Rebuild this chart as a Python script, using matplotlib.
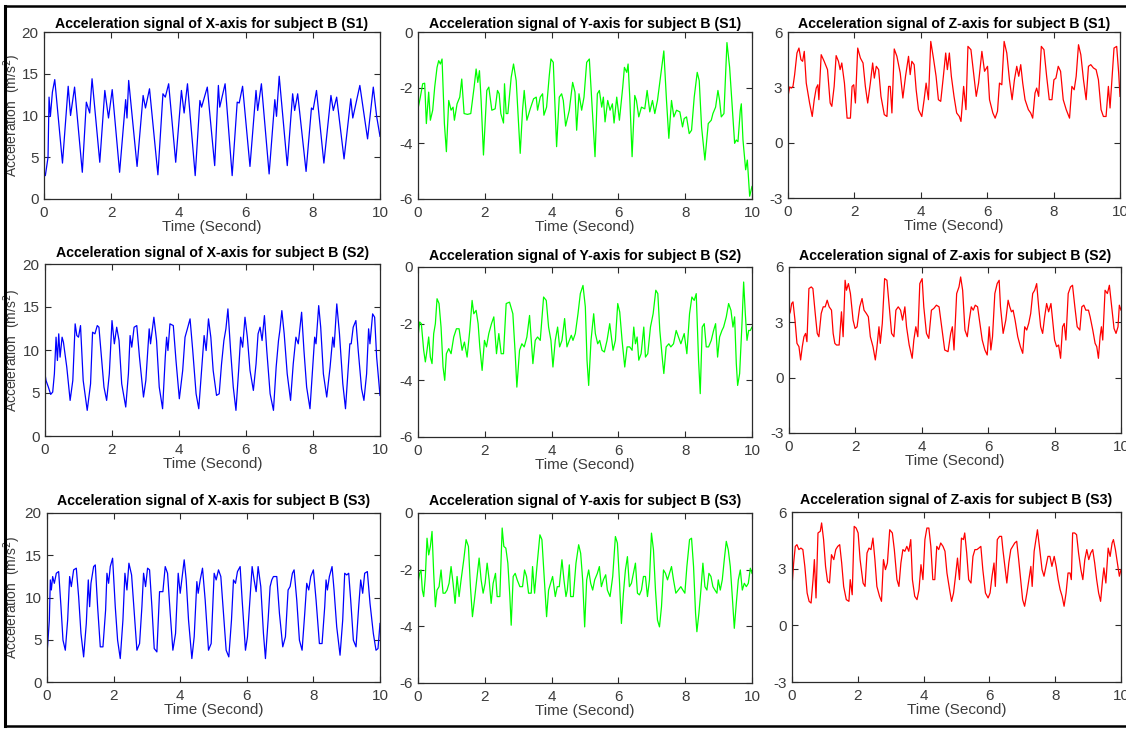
import matplotlib
matplotlib.use("Agg")
import matplotlib.pyplot as plt
from matplotlib import font_manager
from matplotlib.lines import Line2D

# ---------------- data ----------------
x_s1_time = [0.00, 0.04, 0.12, 0.15, 0.19, 0.25, 0.32, 0.55, 0.72, 0.79,
             0.91, 1.14, 1.26, 1.36, 1.43, 1.66, 1.81, 1.92, 2.03, 2.25,
             2.43, 2.47, 2.52, 2.77, 2.95, 3.02, 3.14, 3.39, 3.54, 3.61,
             3.71, 3.92, 4.09, 4.17, 4.27, 4.50, 4.64, 4.69, 4.86, 5.08,
             5.19, 5.23, 5.39, 5.60, 5.75, 5.81, 5.91, 6.13, 6.31, 6.36,
             6.47, 6.70, 6.87, 6.92, 7.00, 7.24, 7.40, 7.46, 7.55, 7.80,
             7.96, 8.01, 8.11, 8.33, 8.54, 8.61, 8.71, 8.93, 9.13, 9.19,
             9.40, 9.63, 9.80, 9.90, 10.0]
x_s1_acc = [3.3, 2.8, 5.0, 12.2, 9.9, 12.8, 14.3, 4.3, 13.5, 10.0,
            13.4, 3.2, 11.6, 10.3, 14.4, 4.4, 13.0, 9.7, 13.1, 3.2,
            11.9, 9.7, 14.2, 3.9, 12.4, 10.9, 13.2, 2.9, 12.6, 12.2,
            13.8, 4.4, 13.0, 10.3, 13.8, 2.8, 11.8, 11.0, 13.4, 4.0,
            13.6, 11.0, 13.8, 2.8, 11.6, 11.5, 13.5, 3.9, 13.0, 10.6,
            13.8, 3.0, 11.9, 9.9, 14.7, 4.0, 12.6, 10.6, 12.6, 3.3,
            10.9, 10.7, 13.0, 4.3, 12.4, 10.6, 12.2, 4.8, 12.0, 9.7,
            13.6, 7.2, 13.4, 9.9, 7.5]

y_s1_time = [0.00, 0.07, 0.14, 0.20, 0.25, 0.32, 0.37, 0.44, 0.50, 0.57,
             0.62, 0.67, 0.72, 0.79, 0.85, 0.92, 0.99, 1.05, 1.09, 1.17,
             1.25, 1.31, 1.38, 1.48, 1.58, 1.68, 1.74, 1.79, 1.84, 1.89,
             1.96, 2.06, 2.12, 2.21, 2.31, 2.38, 2.43, 2.48, 2.56, 2.59,
             2.64, 2.69, 2.79, 2.86, 2.94, 3.06, 3.13, 3.18, 3.26, 3.36,
             3.46, 3.54, 3.58, 3.66, 3.73, 3.77, 3.85, 3.93, 3.98, 4.05,
             4.15, 4.23, 4.30, 4.35, 4.42, 4.53, 4.63, 4.70, 4.75, 4.82,
             4.90, 4.97, 5.05, 5.13, 5.30, 5.37, 5.43, 5.50, 5.55, 5.60,
             5.68, 5.75, 5.82, 5.87, 5.95, 6.03, 6.13, 6.18, 6.25, 6.29,
             6.34, 6.41, 6.49, 6.54, 6.61, 6.69, 6.79, 6.86, 6.94, 7.02,
             7.09, 7.17, 7.27, 7.36, 7.44, 7.51, 7.59, 7.66, 7.74, 7.84,
             7.92, 7.97, 8.04, 8.12, 8.19, 8.27, 8.36, 8.42, 8.49, 8.59,
             8.69, 8.78, 8.83, 8.91, 8.98, 9.03, 9.08, 9.16, 9.25, 9.33,
             9.41, 9.48, 9.53, 9.58, 9.65, 9.68, 9.73, 9.81, 9.86, 9.93,
             10.0]
y_s1_acc = [-2.76, -2.34, -1.86, -1.84, -3.29, -2.16, -3.17, -2.81, -1.98, -1.27,
            -1.03, -1.15, -0.97, -3.29, -4.30, -2.46, -2.81, -2.70, -3.17, -2.58,
            -2.34, -1.69, -2.93, -2.96, -2.93, -1.98, -1.33, -1.81, -1.39, -2.46,
            -4.42, -2.10, -1.98, -2.81, -2.76, -2.10, -2.22, -2.93, -3.27, -1.86,
            -2.93, -2.93, -1.63, -1.15, -1.75, -4.36, -2.81, -2.10, -3.17, -2.76,
            -2.40, -2.34, -2.81, -2.34, -2.22, -2.99, -2.70, -1.57, -0.97, -1.09,
            -4.12, -2.34, -2.22, -2.46, -3.38, -2.81, -1.81, -2.16, -3.53, -2.22,
            -2.81, -2.34, -1.09, -0.97, -4.48, -2.22, -2.10, -2.70, -2.34, -3.23,
            -2.46, -2.81, -2.58, -3.27, -2.34, -3.17, -1.98, -1.27, -1.45, -1.15,
            -2.34, -4.48, -2.28, -2.46, -3.05, -2.70, -2.76, -2.10, -2.87, -2.46,
            -2.93, -2.46, -1.51, -0.68, -2.46, -3.82, -2.46, -3.05, -2.81, -2.87,
            -3.41, -3.11, -3.05, -3.65, -3.53, -2.34, -1.45, -1.75, -3.41, -4.60,
            -3.29, -3.17, -2.93, -2.70, -2.10, -2.46, -3.05, -2.93, -0.38, -1.27,
            -2.70, -4.00, -3.88, -3.94, -2.81, -2.58, -3.88, -4.95, -4.60, -5.90,
            -5.55]

z_s1_time = [0.00, 0.05, 0.10, 0.15, 0.20, 0.27, 0.33, 0.39, 0.44, 0.49,
             0.55, 0.65, 0.73, 0.79, 0.85, 0.90, 0.93, 1.00, 1.09, 1.19,
             1.27, 1.32, 1.39, 1.45, 1.52, 1.57, 1.62, 1.70, 1.78, 1.88,
             1.93, 1.98, 2.03, 2.10, 2.18, 2.26, 2.33, 2.40, 2.48, 2.55,
             2.60, 2.66, 2.73, 2.80, 2.90, 2.98, 3.03, 3.08, 3.13, 3.20,
             3.28, 3.38, 3.46, 3.54, 3.63, 3.68, 3.73, 3.80, 3.86, 3.93,
             4.03, 4.10, 4.16, 4.23, 4.30, 4.38, 4.46, 4.53, 4.60, 4.68,
             4.75, 4.80, 4.86, 4.92, 5.00, 5.08, 5.16, 5.21, 5.29, 5.36,
             5.42, 5.51, 5.59, 5.67, 5.74, 5.84, 5.92, 6.01, 6.07, 6.17,
             6.24, 6.31, 6.37, 6.44, 6.51, 6.59, 6.67, 6.75, 6.82, 6.89,
             6.95, 7.01, 7.07, 7.14, 7.24, 7.31, 7.37, 7.44, 7.49, 7.55,
             7.63, 7.71, 7.79, 7.87, 7.95, 8.01, 8.07, 8.14, 8.21, 8.29,
             8.38, 8.48, 8.55, 8.62, 8.68, 8.75, 8.82, 8.90, 8.98, 9.05,
             9.12, 9.20, 9.28, 9.35, 9.43, 9.50, 9.58, 9.65, 9.70, 9.75,
             9.82, 9.90, 9.96, 10.0]
z_s1_acc = [2.51, 3.02, 2.96, 3.05, 3.69, 4.86, 5.13, 4.50, 4.41, 4.95,
            3.23, 2.15, 1.42, 2.33, 2.96, 3.14, 2.33, 4.77, 4.41, 3.96,
            2.15, 1.97, 3.05, 4.72, 4.41, 3.96, 4.32, 3.23, 1.33, 1.33,
            3.05, 3.14, 2.15, 5.13, 4.59, 4.32, 3.05, 2.15, 3.23, 4.32,
            3.50, 4.14, 3.96, 2.51, 1.52, 1.42, 3.05, 3.05, 1.61, 5.08,
            4.68, 3.78, 2.42, 3.60, 4.68, 3.69, 4.41, 4.23, 2.87, 1.79,
            1.42, 2.33, 3.23, 2.33, 5.49, 4.59, 3.60, 2.33, 2.24, 3.60,
            4.86, 3.96, 4.86, 3.60, 2.51, 1.61, 1.42, 1.15, 3.05, 1.79,
            5.22, 5.04, 3.78, 2.51, 3.23, 4.95, 3.87, 4.14, 2.33, 1.61,
            1.33, 1.70, 3.23, 3.14, 5.49, 4.86, 3.41, 2.33, 3.41, 4.14,
            3.60, 4.23, 3.23, 2.33, 1.79, 1.61, 1.33, 2.69, 2.96, 2.51,
            5.22, 5.04, 3.60, 2.33, 2.33, 3.41, 3.50, 4.14, 3.87, 2.33,
            1.79, 1.33, 3.05, 2.87, 3.60, 5.31, 4.77, 3.41, 2.33, 4.14,
            4.23, 4.05, 3.96, 3.41, 1.79, 1.42, 1.42, 3.05, 1.88, 3.23,
            5.13, 5.22, 3.78, 2.51]

x_s2_time = [0.00, 0.03, 0.10, 0.17, 0.23, 0.28, 0.33, 0.37, 0.41, 0.45,
             0.51, 0.55, 0.65, 0.75, 0.83, 0.90, 0.95, 1.00, 1.06, 1.14,
             1.26, 1.36, 1.42, 1.49, 1.56, 1.61, 1.66, 1.76, 1.84, 1.92,
             2.00, 2.07, 2.14, 2.21, 2.29, 2.41, 2.49, 2.54, 2.59, 2.66,
             2.74, 2.82, 2.94, 3.01, 3.11, 3.15, 3.25, 3.33, 3.41, 3.51,
             3.59, 3.63, 3.67, 3.73, 3.83, 3.91, 4.01, 4.11, 4.18, 4.25,
             4.33, 4.41, 4.51, 4.59, 4.68, 4.75, 4.81, 4.88, 4.95, 5.02,
             5.12, 5.20, 5.27, 5.34, 5.40, 5.46, 5.54, 5.62, 5.70, 5.78,
             5.84, 5.90, 5.97, 6.04, 6.12, 6.22, 6.30, 6.36, 6.42, 6.48,
             6.55, 6.62, 6.72, 6.82, 6.90, 6.97, 7.01, 7.07, 7.14, 7.23,
             7.33, 7.41, 7.49, 7.56, 7.66, 7.73, 7.81, 7.91, 7.99, 8.05,
             8.09, 8.17, 8.23, 8.31, 8.41, 8.51, 8.59, 8.63, 8.71, 8.79,
             8.89, 8.97, 9.04, 9.10, 9.14, 9.20, 9.28, 9.35, 9.45, 9.52,
             9.60, 9.66, 9.70, 9.78, 9.84, 9.90, 9.96, 10.0]
x_s2_acc = [7.23, 6.46, 5.69, 4.84, 5.11, 7.23, 11.49, 8.78, 11.88, 9.17,
            11.49, 10.91, 8.01, 4.14, 6.46, 13.04, 11.68, 11.49, 12.84, 6.46,
            2.98, 6.07, 12.07, 11.88, 12.84, 12.65, 10.33, 5.69, 4.14, 7.23,
            13.42, 10.72, 12.65, 11.10, 6.07, 3.37, 7.23, 11.68, 10.33, 12.65,
            12.84, 9.17, 4.53, 6.46, 12.46, 10.72, 13.81, 11.10, 5.69, 3.17,
            9.17, 11.49, 9.94, 13.04, 12.84, 8.78, 4.33, 7.62, 11.49, 12.46,
            13.62, 9.94, 4.91, 3.17, 8.01, 11.68, 9.94, 13.62, 11.49, 7.62,
            4.72, 4.91, 8.39, 11.10, 12.46, 14.78, 9.94, 5.69, 2.98, 7.62,
            11.49, 10.33, 13.81, 11.49, 7.62, 5.30, 8.39, 11.88, 12.65, 11.10,
            14.00, 9.94, 4.91, 2.98, 8.01, 11.10, 12.26, 14.58, 11.88, 7.23,
            4.14, 8.39, 11.49, 10.72, 14.39, 9.94, 5.69, 3.17, 8.01, 11.49,
            10.72, 15.16, 12.65, 7.23, 4.53, 8.01, 11.49, 10.33, 15.36, 11.88,
            6.07, 3.17, 7.23, 10.72, 10.72, 12.65, 13.42, 9.94, 5.49, 4.14,
            7.23, 12.46, 10.72, 14.20, 13.81, 9.17, 6.46, 4.72]

y_s2_time = [0.00, 0.05, 0.10, 0.17, 0.22, 0.27, 0.32, 0.37, 0.42, 0.47,
             0.52, 0.57, 0.63, 0.69, 0.75, 0.80, 0.85, 0.92, 0.99, 1.07,
             1.15, 1.23, 1.32, 1.39, 1.47, 1.55, 1.62, 1.67, 1.74, 1.80,
             1.85, 1.92, 1.99, 2.05, 2.12, 2.20, 2.27, 2.35, 2.42, 2.49,
             2.56, 2.64, 2.74, 2.84, 2.91, 2.96, 3.04, 3.11, 3.18, 3.26,
             3.34, 3.44, 3.51, 3.58, 3.66, 3.76, 3.84, 3.91, 3.98, 4.04,
             4.11, 4.18, 4.24, 4.31, 4.39, 4.46, 4.53, 4.59, 4.64, 4.71,
             4.79, 4.86, 4.94, 5.01, 5.06, 5.11, 5.18, 5.26, 5.31, 5.38,
             5.44, 5.51, 5.58, 5.66, 5.74, 5.84, 5.91, 5.98, 6.04, 6.11,
             6.19, 6.26, 6.34, 6.41, 6.46, 6.51, 6.56, 6.61, 6.68, 6.76,
             6.81, 6.88, 6.96, 7.04, 7.12, 7.18, 7.24, 7.32, 7.36, 7.43,
             7.51, 7.57, 7.65, 7.73, 7.80, 7.87, 7.97, 8.05, 8.13, 8.20,
             8.27, 8.33, 8.40, 8.45, 8.51, 8.57, 8.63, 8.70, 8.78, 8.85,
             8.91, 8.97, 9.03, 9.10, 9.15, 9.23, 9.30, 9.37, 9.43, 9.48,
             9.53, 9.57, 9.63, 9.70, 9.75, 9.80, 9.85, 9.90, 9.95, 10.0]
y_s2_acc = [-2.47, -1.94, -2.00, -2.94, -3.35, -2.94, -2.47, -3.18, -3.41, -2.35,
            -2.00, -1.12, -1.29, -2.12, -3.53, -4.00, -3.06, -2.88, -3.06, -2.47,
            -2.18, -2.18, -2.94, -2.65, -3.18, -2.24, -1.18, -1.65, -1.53, -2.00,
            -2.82, -3.65, -2.59, -2.82, -2.35, -2.00, -1.76, -3.06, -2.35, -3.06,
            -3.06, -1.29, -1.24, -1.65, -3.06, -4.24, -2.94, -2.71, -2.82, -2.47,
            -1.71, -3.41, -2.59, -2.47, -2.59, -1.06, -1.18, -2.12, -2.59, -3.53,
            -2.59, -2.12, -2.82, -2.59, -1.82, -2.82, -2.59, -2.41, -2.59, -2.35,
            -1.65, -0.94, -0.65, -1.41, -3.29, -4.18, -2.59, -1.65, -2.35, -2.71,
            -2.59, -2.94, -3.00, -2.59, -2.00, -2.94, -2.59, -1.29, -1.59, -2.59,
            -3.53, -2.82, -2.82, -2.94, -2.12, -2.71, -2.47, -3.29, -3.06, -2.12,
            -3.18, -3.06, -2.12, -1.65, -0.82, -0.94, -2.24, -3.29, -3.76, -2.82,
            -2.71, -2.82, -2.71, -2.24, -2.47, -2.71, -2.35, -3.06, -1.65, -1.06,
            -1.18, -0.94, -3.29, -4.47, -2.12, -2.00, -2.82, -2.82, -2.59, -2.24,
            -2.00, -3.18, -2.47, -2.24, -2.12, -1.76, -1.29, -1.53, -2.12, -1.76,
            -3.41, -4.18, -3.76, -2.00, -0.53, -1.65, -2.59, -2.24, -2.24, -2.12]

z_s2_time = [0.00, 0.04, 0.08, 0.12, 0.18, 0.24, 0.30, 0.35, 0.40, 0.45,
             0.50, 0.54, 0.60, 0.67, 0.72, 0.79, 0.85, 0.90, 0.97, 1.03,
             1.09, 1.15, 1.21, 1.28, 1.33, 1.38, 1.43, 1.51, 1.58, 1.63,
             1.69, 1.73, 1.79, 1.85, 1.93, 1.99, 2.05, 2.13, 2.20, 2.26,
             2.33, 2.39, 2.45, 2.53, 2.60, 2.65, 2.71, 2.75, 2.81, 2.88,
             2.95, 3.02, 3.09, 3.16, 3.22, 3.29, 3.36, 3.42, 3.49, 3.54,
             3.62, 3.71, 3.76, 3.82, 3.88, 3.94, 4.01, 4.06, 4.14, 4.21,
             4.29, 4.36, 4.44, 4.52, 4.60, 4.69, 4.79, 4.87, 4.92, 4.97,
             5.05, 5.12, 5.17, 5.23, 5.30, 5.37, 5.43, 5.49, 5.55, 5.61,
             5.68, 5.75, 5.82, 5.90, 5.97, 6.03, 6.08, 6.13, 6.20, 6.27,
             6.33, 6.37, 6.45, 6.53, 6.60, 6.65, 6.70, 6.75, 6.81, 6.89,
             6.97, 7.04, 7.10, 7.16, 7.22, 7.28, 7.34, 7.40, 7.46, 7.52,
             7.58, 7.64, 7.70, 7.76, 7.82, 7.89, 7.94, 8.00, 8.06, 8.12,
             8.18, 8.24, 8.29, 8.34, 8.41, 8.48, 8.54, 8.61, 8.68, 8.76,
             8.82, 8.88, 8.94, 9.02, 9.07, 9.15, 9.22, 9.27, 9.32, 9.37,
             9.41, 9.45, 9.52, 9.59, 9.65, 9.72, 9.79, 9.85, 9.91, 9.95,
             10.0]
z_s2_acc = [3.39, 3.57, 4.02, 4.11, 3.12, 1.86, 1.68, 0.96, 1.68, 2.22,
            2.40, 1.95, 4.83, 4.92, 4.83, 3.48, 2.40, 2.22, 3.48, 3.84,
            3.84, 4.20, 3.84, 3.66, 2.40, 1.86, 1.77, 1.77, 3.57, 2.22,
            5.28, 4.74, 5.10, 4.56, 3.12, 2.67, 2.76, 3.84, 4.29, 3.66,
            3.48, 3.30, 2.22, 1.68, 0.96, 1.68, 2.76, 1.86, 2.94, 5.37,
            5.28, 3.84, 2.40, 2.22, 3.66, 3.84, 3.66, 3.12, 3.84, 2.76,
            1.77, 1.05, 2.04, 2.76, 2.22, 5.10, 5.37, 3.84, 2.40, 2.13,
            3.66, 3.75, 3.93, 3.84, 2.76, 1.50, 1.41, 2.40, 2.76, 1.50,
            4.56, 4.92, 5.46, 4.74, 2.58, 2.22, 3.12, 3.84, 3.66, 3.93,
            3.84, 2.94, 2.04, 1.50, 1.23, 2.76, 1.50, 2.22, 4.56, 5.10,
            5.28, 3.84, 2.40, 3.12, 4.20, 3.84, 3.57, 3.66, 3.12, 2.22,
            1.68, 1.32, 2.76, 2.58, 2.94, 3.48, 4.56, 4.74, 5.10, 3.84,
            2.76, 2.40, 3.30, 4.02, 3.57, 4.02, 3.12, 2.04, 1.68, 1.77,
            1.05, 2.76, 2.94, 2.04, 4.56, 4.92, 5.01, 3.84, 2.76, 2.58,
            3.84, 3.93, 3.66, 3.66, 3.30, 2.58, 1.86, 1.68, 1.05, 2.22,
            2.76, 2.04, 4.74, 4.56, 5.01, 3.84, 2.67, 2.40, 2.76, 3.93,
            3.66]

x_s3_time = [0.00, 0.03, 0.07, 0.10, 0.13, 0.17, 0.22, 0.28, 0.35, 0.42,
             0.48, 0.55, 0.62, 0.68, 0.73, 0.80, 0.88, 0.95, 1.02, 1.10,
             1.18, 1.24, 1.28, 1.32, 1.40, 1.45, 1.52, 1.60, 1.68, 1.76,
             1.80, 1.85, 1.90, 1.97, 2.05, 2.12, 2.20, 2.28, 2.34, 2.40,
             2.46, 2.54, 2.62, 2.70, 2.78, 2.85, 2.90, 2.96, 3.02, 3.08,
             3.15, 3.22, 3.30, 3.38, 3.48, 3.55, 3.62, 3.70, 3.78, 3.86,
             3.94, 4.00, 4.06, 4.12, 4.18, 4.25, 4.35, 4.42, 4.50, 4.54,
             4.60, 4.67, 4.75, 4.85, 4.93, 5.02, 5.08, 5.15, 5.22, 5.30,
             5.38, 5.46, 5.54, 5.60, 5.66, 5.72, 5.80, 5.86, 5.96, 6.02,
             6.10, 6.16, 6.22, 6.28, 6.34, 6.42, 6.50, 6.56, 6.64, 6.70,
             6.75, 6.80, 6.90, 6.98, 7.08, 7.16, 7.24, 7.30, 7.37, 7.42,
             7.50, 7.58, 7.66, 7.74, 7.80, 7.86, 7.92, 8.00, 8.08, 8.18,
             8.26, 8.34, 8.38, 8.42, 8.48, 8.56, 8.62, 8.70, 8.80, 8.88,
             8.94, 9.00, 9.06, 9.12, 9.20, 9.28, 9.36, 9.42, 9.48, 9.54,
             9.62, 9.70, 9.80, 9.88, 9.94, 10.0]
x_s3_acc = [3.37, 4.95, 7.33, 12.08, 10.89, 12.48, 11.68, 12.87, 13.07, 8.91,
            4.95, 3.76, 7.33, 12.48, 11.29, 13.27, 13.47, 10.10, 5.74, 2.97,
            6.93, 12.08, 8.91, 11.68, 13.66, 13.86, 8.91, 4.16, 4.16, 8.51,
            12.87, 11.68, 13.66, 14.65, 8.91, 4.95, 2.77, 7.33, 12.87, 10.89,
            14.06, 12.67, 8.12, 3.76, 4.55, 8.91, 12.87, 11.29, 13.47, 13.27,
            8.91, 3.96, 3.56, 10.69, 10.69, 13.66, 12.87, 8.12, 3.76, 5.74,
            12.87, 10.50, 12.48, 14.46, 12.08, 7.33, 2.77, 5.35, 11.88, 10.50,
            12.08, 13.47, 9.70, 3.76, 4.55, 12.87, 12.08, 13.27, 12.48, 8.12,
            3.76, 2.97, 7.33, 12.08, 11.68, 13.07, 13.66, 9.70, 3.76, 5.35,
            10.10, 13.66, 12.08, 10.69, 13.66, 11.29, 5.74, 2.77, 7.33, 11.29,
            12.08, 12.48, 12.48, 8.12, 4.16, 5.35, 10.89, 11.29, 12.87, 13.27,
            9.70, 4.95, 3.76, 8.12, 11.68, 10.89, 12.48, 13.27, 9.70, 4.55,
            4.55, 8.91, 12.08, 10.89, 12.48, 13.66, 10.89, 6.53, 3.17, 7.33,
            12.87, 12.67, 12.87, 9.70, 4.95, 4.16, 8.91, 12.08, 10.50, 12.87,
            13.07, 9.31, 5.74, 3.76, 3.96, 6.93]

y_s3_time = [0.00, 0.05, 0.09, 0.13, 0.17, 0.22, 0.27, 0.32, 0.37, 0.42,
             0.47, 0.52, 0.57, 0.63, 0.69, 0.75, 0.81, 0.87, 0.93, 0.99,
             1.05, 1.11, 1.17, 1.23, 1.29, 1.37, 1.44, 1.51, 1.57, 1.63,
             1.69, 1.77, 1.83, 1.89, 1.95, 2.01, 2.07, 2.13, 2.19, 2.25,
             2.32, 2.37, 2.45, 2.52, 2.57, 2.63, 2.69, 2.75, 2.79, 2.85,
             2.91, 2.97, 3.05, 3.13, 3.19, 3.25, 3.31, 3.39, 3.43, 3.49,
             3.57, 3.65, 3.71, 3.77, 3.85, 3.91, 3.97, 4.03, 4.11, 4.17,
             4.23, 4.31, 4.37, 4.43, 4.47, 4.53, 4.57, 4.65, 4.73, 4.81,
             4.87, 4.93, 4.99, 5.05, 5.11, 5.17, 5.23, 5.29, 5.37, 5.43,
             5.49, 5.55, 5.62, 5.67, 5.75, 5.83, 5.91, 5.97, 6.03, 6.09,
             6.15, 6.21, 6.27, 6.33, 6.39, 6.45, 6.51, 6.57, 6.63, 6.69,
             6.75, 6.81, 6.87, 6.93, 6.99, 7.05, 7.11, 7.17, 7.23, 7.29,
             7.35, 7.41, 7.47, 7.53, 7.59, 7.65, 7.72, 7.79, 7.87, 7.93,
             7.99, 8.05, 8.13, 8.19, 8.25, 8.31, 8.35, 8.41, 8.47, 8.53,
             8.59, 8.65, 8.71, 8.77, 8.83, 8.89, 8.95, 8.99, 9.05, 9.11,
             9.17, 9.23, 9.29, 9.35, 9.41, 9.47, 9.53, 9.59, 9.65, 9.71,
             9.77, 9.83, 9.89, 9.95, 10.0]
y_s3_acc = [-2.48, -2.13, -2.01, -2.72, -2.95, -2.24, -0.89, -1.48, -1.18, -0.65,
            -2.13, -3.31, -2.72, -2.60, -2.01, -2.83, -2.83, -2.72, -2.48, -1.89,
            -2.48, -3.19, -2.24, -2.95, -2.36, -1.65, -0.94, -1.18, -2.60, -3.66,
            -3.07, -2.24, -1.59, -2.36, -2.83, -2.48, -1.77, -2.36, -3.19, -2.48,
            -2.13, -2.95, -2.95, -0.53, -1.18, -1.24, -1.77, -2.95, -3.96, -2.24,
            -2.13, -2.36, -2.60, -2.60, -2.01, -2.24, -2.83, -2.83, -1.89, -2.83,
            -1.77, -0.77, -0.94, -2.13, -3.66, -2.72, -2.48, -2.24, -2.95, -2.60,
            -2.60, -1.65, -2.36, -2.95, -2.72, -1.83, -2.95, -2.95, -1.77, -1.12,
            -1.42, -2.36, -4.02, -2.36, -2.01, -2.48, -2.72, -2.36, -2.13, -1.89,
            -2.60, -2.36, -2.18, -2.72, -2.95, -2.24, -0.83, -1.06, -2.36, -3.90,
            -2.83, -2.01, -1.54, -2.60, -2.48, -2.13, -1.77, -2.83, -2.89, -2.72,
            -2.24, -2.24, -2.95, -2.36, -0.71, -1.30, -2.72, -3.78, -4.02, -3.31,
            -2.01, -2.13, -2.36, -2.13, -1.89, -2.36, -2.83, -2.72, -2.60, -2.72,
            -2.83, -1.89, -0.94, -0.89, -1.89, -3.54, -4.19, -3.54, -2.72, -1.77,
            -2.60, -2.72, -2.13, -2.24, -2.60, -2.72, -2.83, -2.36, -2.72, -2.36,
            -1.65, -1.00, -1.30, -1.89, -2.95, -4.07, -3.19, -2.36, -2.01, -2.72,
            -2.48, -2.60, -2.48, -1.95, -2.13]

z_s3_time = [0.00, 0.05, 0.10, 0.15, 0.21, 0.27, 0.33, 0.39, 0.46, 0.52,
             0.58, 0.64, 0.68, 0.73, 0.79, 0.86, 0.90, 0.96, 1.02, 1.08,
             1.14, 1.20, 1.27, 1.33, 1.39, 1.45, 1.51, 1.57, 1.65, 1.73,
             1.77, 1.83, 1.89, 1.95, 2.01, 2.07, 2.16, 2.22, 2.28, 2.34,
             2.40, 2.46, 2.52, 2.58, 2.66, 2.72, 2.78, 2.84, 2.90, 2.97,
             3.05, 3.11, 3.19, 3.25, 3.31, 3.37, 3.43, 3.49, 3.55, 3.61,
             3.66, 3.73, 3.80, 3.86, 3.92, 3.98, 4.04, 4.10, 4.16, 4.22,
             4.28, 4.34, 4.40, 4.46, 4.52, 4.59, 4.65, 4.71, 4.79, 4.85,
             4.91, 4.97, 5.03, 5.09, 5.15, 5.21, 5.25, 5.31, 5.37, 5.44,
             5.50, 5.56, 5.62, 5.68, 5.74, 5.80, 5.88, 5.96, 6.02, 6.08,
             6.14, 6.18, 6.24, 6.31, 6.37, 6.41, 6.47, 6.53, 6.59, 6.65,
             6.71, 6.77, 6.83, 6.89, 6.95, 7.01, 7.07, 7.14, 7.20, 7.26,
             7.30, 7.36, 7.42, 7.46, 7.52, 7.60, 7.66, 7.72, 7.78, 7.84,
             7.90, 7.97, 8.03, 8.09, 8.15, 8.21, 8.27, 8.33, 8.39, 8.45,
             8.49, 8.53, 8.59, 8.65, 8.71, 8.78, 8.84, 8.90, 8.96, 9.02,
             9.08, 9.14, 9.20, 9.26, 9.32, 9.38, 9.44, 9.48, 9.54, 9.61,
             9.67, 9.73, 9.77, 9.83, 9.89, 9.95, 10.0]
z_s3_acc = [2.06, 3.30, 4.18, 4.27, 4.01, 4.09, 4.01, 3.12, 1.71, 1.27,
            1.18, 2.42, 3.48, 1.45, 4.89, 4.98, 5.42, 4.54, 3.12, 2.33,
            2.24, 3.74, 3.48, 4.01, 4.18, 4.27, 3.30, 2.06, 1.36, 1.27,
            2.42, 1.62, 5.24, 5.15, 4.89, 3.48, 2.24, 2.06, 3.83, 4.09,
            4.01, 4.62, 3.48, 2.06, 1.54, 1.27, 3.48, 2.95, 3.30, 5.06,
            4.89, 4.01, 2.42, 2.06, 3.30, 4.01, 3.92, 4.18, 3.92, 4.54,
            2.42, 1.54, 1.36, 1.89, 3.21, 2.42, 4.54, 5.15, 5.15, 4.18,
            2.42, 2.42, 4.18, 4.01, 4.36, 4.18, 3.92, 2.77, 1.89, 1.27,
            1.71, 2.60, 3.56, 2.42, 4.62, 4.54, 4.89, 3.83, 2.42, 2.24,
            3.65, 4.01, 4.01, 4.09, 4.18, 2.95, 1.71, 1.45, 1.71, 2.60,
            3.30, 2.06, 4.54, 4.71, 4.71, 4.01, 3.12, 2.24, 3.30, 4.01,
            4.18, 4.36, 4.45, 3.48, 2.42, 1.36, 1.01, 1.71, 2.42, 3.12,
            2.06, 3.92, 4.62, 5.06, 4.18, 2.95, 2.60, 3.12, 3.65, 3.65,
            3.12, 3.65, 3.12, 2.42, 1.89, 1.54, 1.01, 1.71, 2.77, 2.77,
            2.42, 4.89, 4.89, 4.80, 3.83, 2.95, 2.42, 3.48, 4.01, 3.48,
            3.83, 4.01, 3.30, 2.42, 1.71, 1.27, 2.42, 3.04, 2.24, 4.09,
            3.65, 4.36, 4.54, 4.01, 3.30, 2.60, 2.95]

axis_names = ["X", "Y", "Z"]
session_names = ["S1", "S2", "S3"]
axis_colors = ["#0000FF", "#00FF00", "#FF0000"]
y_limits = [(0, 20), (-6, 0), (-3, 6)]
y_ticks = [[0, 5, 10, 15, 20], [-6, -4, -2, 0], [-3, 0, 3, 6]]
x_ticks = [0, 2, 4, 6, 8, 10]

series = [
    [(x_s1_time, x_s1_acc), (y_s1_time, y_s1_acc), (z_s1_time, z_s1_acc)],
    [(x_s2_time, x_s2_acc), (y_s2_time, y_s2_acc), (z_s2_time, z_s2_acc)],
    [(x_s3_time, x_s3_acc), (y_s3_time, y_s3_acc), (z_s3_time, z_s3_acc)],
]

# ---------------- style ----------------
names = {f.name for f in font_manager.fontManager.ttflist}
narrow = "Liberation Sans Narrow" if "Liberation Sans Narrow" in names else "Liberation Sans"
plt.rcParams["font.family"] = [narrow, "DejaVu Sans"]
plt.rcParams["axes.unicode_minus"] = False

W, H = 1126, 729
fig = plt.figure(figsize=(W / 100, H / 100), dpi=100)

# axes boxes in pixels: (left, top, right, bottom)
boxes = [
    [(44, 32, 380, 199), (418, 32, 752, 199), (788, 32, 1120, 198)],
    [(45, 264, 380, 436), (418, 267, 752, 437), (789, 267, 1121, 433)],
    [(47, 513, 380, 682), (418, 513, 752, 683), (792, 512, 1121, 682)],
]
title_pads = [3, 5, 6]
ylabel_px = 23

frame_col = "#2b2b2b"
tick_col = "#3c3c3c"

for r in range(3):
    for c in range(3):
        l, t, rr, b = boxes[r][c]
        ax = fig.add_axes([l / W, 1 - b / H, (rr - l) / W, (b - t) / H])
        tt, vv = series[r][c]
        ax.plot(tt, vv, color=axis_colors[c], lw=0.9)
        ax.set_xlim(0, 10)
        ax.set_ylim(*y_limits[c])
        ax.set_xticks(x_ticks)
        ax.set_yticks(y_ticks[c])
        ax.tick_params(direction="in", length=4, width=0.8, top=True, right=True,
                       labelsize=11, colors=frame_col, labelcolor=tick_col)
        ax.tick_params(axis="x", pad=5)
        ax.tick_params(axis="y", pad=4)
        for sp in ax.spines.values():
            sp.set_color(frame_col)
            sp.set_linewidth(0.9)
        ax.set_title(f"Acceleration signal of {axis_names[c]}-axis for subject B ({session_names[r]})",
                     fontsize=10.2, fontweight="bold", pad=title_pads[r], color="black")
        ax.set_xlabel("Time (Second)", fontsize=11, color=tick_col, labelpad=0)
        if c == 0:
            ax.set_ylabel("Acceleration  (m/s$^{2}$)", fontsize=10, color=tick_col)
            ax.yaxis.set_label_coords((ylabel_px - l) / (rr - l), 0.5)

# outer frame (top, left, bottom)
fig.add_artist(Line2D([5 / W, 1.0], [1 - 6 / H, 1 - 6 / H], transform=fig.transFigure, color="black", lw=1.8))
fig.add_artist(Line2D([5 / W, 5 / W], [1 - 6 / H, 1 - 726 / H], transform=fig.transFigure, color="black", lw=2.2))
fig.add_artist(Line2D([5 / W, 1.0], [1 - 726 / H, 1 - 726 / H], transform=fig.transFigure, color="black", lw=1.8))

fig.savefig("out.png", dpi=100)
